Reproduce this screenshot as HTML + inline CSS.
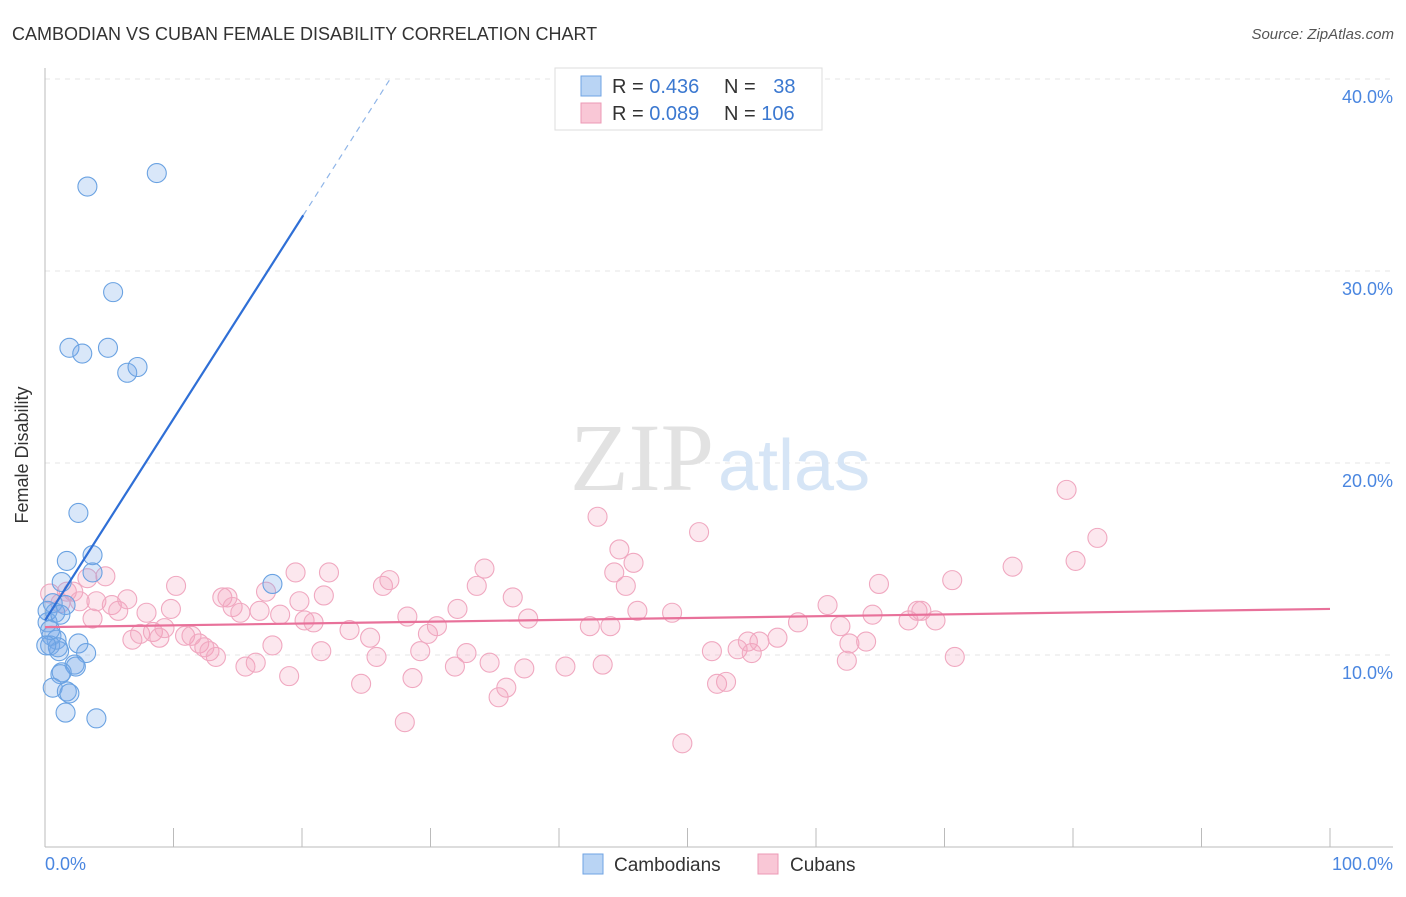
<!DOCTYPE html>
<html><head><meta charset="utf-8"><style>
body{margin:0;background:#fff;font-family:"Liberation Sans",sans-serif;}
</style></head><body>
<svg width="1406" height="892" xmlns="http://www.w3.org/2000/svg">
<text x="12" y="40" font-size="18" fill="#333">CAMBODIAN VS CUBAN FEMALE DISABILITY CORRELATION CHART</text>
<text x="1394" y="39" font-size="15" fill="#555" text-anchor="end" font-style="italic">Source: ZipAtlas.com</text>
<g id="grid"></g>
<text x="714" y="490" font-size="96" fill="#e2e2e2" text-anchor="end" font-family="Liberation Serif,serif">ZIP</text>
<text x="718" y="490" font-size="72" fill="#d6e5f6">atlas</text>
<g id="pts"></g>
<g id="trend"></g>
<text x="28" y="455" font-size="18" fill="#333" text-anchor="middle" transform="rotate(-90 28 455)">Female Disability</text>
<text x="45" y="870" font-size="18" fill="#4a86e0">0.0%</text>
<text x="1393" y="870" font-size="18" fill="#4a86e0" text-anchor="end">100.0%</text>
<g>
<rect x="555" y="68" width="267" height="62" fill="#fff" stroke="#ddd"/>
<rect x="581" y="76" width="20" height="20" fill="#b9d4f4" stroke="#6fa3e3"/>
<rect x="581" y="103" width="20" height="20" fill="#f9c7d6" stroke="#ec9ab5"/>
<text x="612" y="93" font-size="20" fill="#333">R = <tspan fill="#3b78d0">0.436</tspan></text>
<text x="724" y="93" font-size="20" fill="#333">N = <tspan fill="#3b78d0" dx="12">38</tspan></text>
<text x="612" y="120" font-size="20" fill="#333">R = <tspan fill="#3b78d0">0.089</tspan></text>
<text x="724" y="120" font-size="20" fill="#333">N = <tspan fill="#3b78d0">106</tspan></text>
</g>
<g>
<rect x="583" y="854" width="20" height="20" fill="#b9d4f4" stroke="#6fa3e3"/>
<text x="614" y="871" font-size="19" fill="#333">Cambodians</text>
<rect x="758" y="854" width="20" height="20" fill="#f9c7d6" stroke="#ec9ab5"/>
<text x="790" y="871" font-size="19" fill="#333">Cubans</text>
</g>
</svg>
<script>
const yTicks=[10,20,30,40];
const yTickLabels=["10.0%","20.0%","30.0%","40.0%"];
const xTicks=[10,20,30,40,50,60,70,80,90,100];
const blueX=[8.7,3.3,5.3,1.9,2.9,4.9,6.4,7.2,2.6,1.7,3.7,3.7,1.3,17.7,0.6,1.6,0.8,0.2,0.5,0.9,0.4,1.1,2.6,3.2,2.3,2.4,1.3,1.2,0.6,1.7,1.9,1.6,4.0,0.2,0.4,1.0,0.1,1.2];
const blueY=[35.1,34.4,28.9,26.0,25.7,26.0,24.7,25.0,17.4,14.9,15.2,14.3,13.8,13.7,12.7,12.6,12.2,11.7,11.0,10.8,10.5,10.2,10.6,10.1,9.5,9.4,9.1,9.0,8.3,8.1,8.0,7.0,6.7,12.3,11.3,10.4,10.5,12.1];
const pinkX=[0.4,1.2,1.7,2.2,2.7,3.3,4.0,4.7,3.7,5.2,5.7,6.4,6.8,7.4,7.9,8.4,8.9,9.3,9.8,10.2,10.9,11.4,12.0,12.4,12.8,13.3,13.8,14.2,14.6,15.2,15.6,16.4,16.7,17.2,17.7,18.3,19.0,19.5,19.8,20.2,20.9,21.5,21.7,22.1,23.7,24.6,25.3,25.8,26.3,26.8,28.0,28.2,28.6,29.2,29.8,30.5,31.9,32.1,32.8,33.6,34.2,34.6,35.3,35.9,36.4,37.3,37.6,40.5,42.4,43.0,43.4,44.0,44.3,44.7,45.2,45.8,46.1,48.8,49.6,50.9,51.9,52.3,53.0,53.9,54.7,55.0,55.6,57.0,58.6,60.9,61.9,62.4,62.6,63.9,64.4,64.9,67.2,67.9,68.2,69.3,70.6,70.8,75.3,79.5,80.2,81.9];
const pinkY=[13.2,12.7,13.3,13.3,12.8,14.0,12.8,14.1,11.9,12.6,12.3,12.9,10.8,11.1,12.2,11.2,10.9,11.4,12.4,13.6,11.0,11.0,10.6,10.4,10.2,9.9,13.0,13.0,12.5,12.2,9.4,9.6,12.3,13.3,10.5,12.1,8.9,14.3,12.8,11.8,11.7,10.2,13.1,14.3,11.3,8.5,10.9,9.9,13.6,13.9,6.5,12.0,8.8,10.2,11.1,11.5,9.4,12.4,10.1,13.6,14.5,9.6,7.8,8.3,13.0,9.3,11.9,9.4,11.5,17.2,9.5,11.5,14.3,15.5,13.6,14.8,12.3,12.2,5.4,16.4,10.2,8.5,8.6,10.3,10.7,10.1,10.7,10.9,11.7,12.6,11.5,9.7,10.6,10.7,12.1,13.7,11.8,12.3,12.3,11.8,13.9,9.9,14.6,18.6,14.9,16.1];
const blueTrend=[11.8,1.05];
const pinkTrend=[11.45,0.0095];
const X=v=>45+v*12.85, Y=v=>847-v*19.2;
const NS="http://www.w3.org/2000/svg";
function mk(t,a,p){const e=document.createElementNS(NS,t);for(const k in a)e.setAttribute(k,a[k]);p.appendChild(e);return e;}
const g=document.getElementById('grid');
yTicks.forEach((t,i)=>{
 const l=mk('line',{x1:45,x2:1393,y1:Y(t),y2:Y(t),stroke:'#e4e4e4','stroke-dasharray':'5,5'},g);
 
 
 const tx=mk('text',{x:1393,y:Y(t)+24,'font-size':18,fill:'#4a86e0','text-anchor':'end'},g);
 tx.textContent=yTickLabels[i];
 
 
});
const ax=mk('line',{x1:45,x2:45,y1:68,y2:847,stroke:'#bbb'},g);


const bx=mk('line',{x1:45,x2:1393,y1:847,y2:847,stroke:'#bbb'},g);


xTicks.forEach(t=>{
 const l=mk('line',{x1:X(t),x2:X(t),y1:828,y2:847,stroke:'#bbb'},g);
 
 
});
const p=document.getElementById('pts');
pinkX.forEach((x,i)=>{
 const c=mk('circle',{cx:X(x),cy:Y(pinkY[i]),r:9.5,fill:'rgba(244,160,188,0.25)',stroke:'#f0a8c0','stroke-width':1.1},p);
 
 
});
blueX.forEach((x,i)=>{
 const c=mk('circle',{cx:X(x),cy:Y(blueY[i]),r:9.5,fill:'rgba(120,170,232,0.28)',stroke:'#6aa2e2','stroke-width':1.1},p);
 
 
});
const tr=document.getElementById('trend');
const bf=x=>blueTrend[0]+blueTrend[1]*x;
const b1=mk('line',{x1:X(0),y1:Y(bf(0)),x2:X(20.1),y2:Y(bf(20.1)),stroke:'#2f6fd6','stroke-width':2.2},tr);


const xe=(40-blueTrend[0])/blueTrend[1];
const b2=mk('line',{x1:X(20.1),y1:Y(bf(20.1)),x2:X(xe),y2:Y(40),stroke:'#8fb5e8','stroke-width':1.2,'stroke-dasharray':'6,5'},tr);


const pf=x=>pinkTrend[0]+pinkTrend[1]*x;
const p1=mk('line',{x1:X(0),y1:Y(pf(0)),x2:X(100),y2:Y(pf(100)),stroke:'#e8719a','stroke-width':2.2},tr);


</script>
</body></html>
